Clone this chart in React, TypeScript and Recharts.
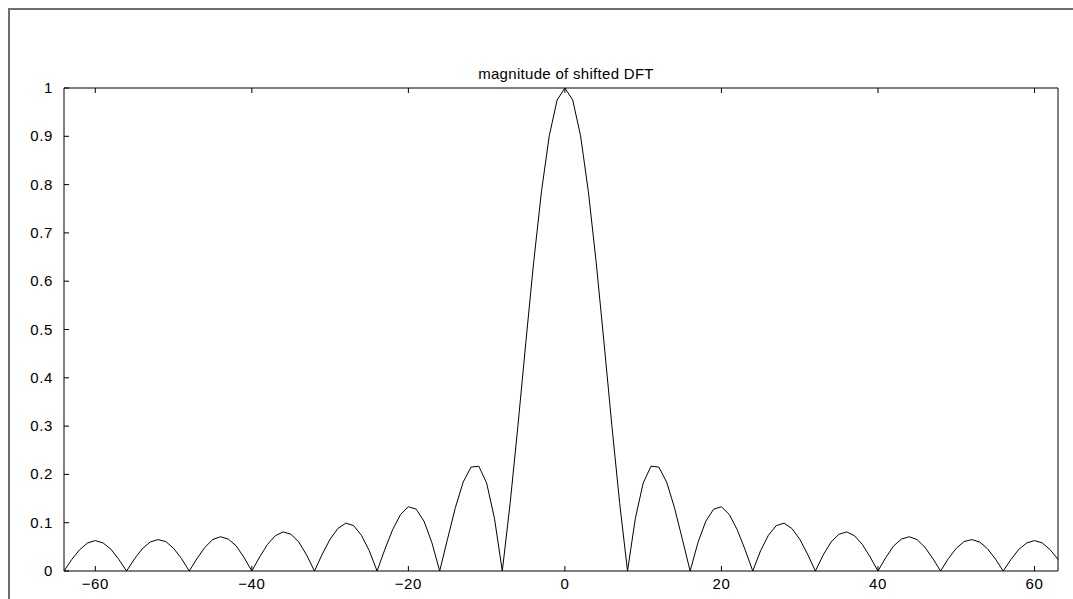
import { LineChart, Line, XAxis, YAxis } from "recharts";

// DFT bins shown on the x axis run from -64 to 63
const BIN_START = -64;

// |X[k]| for k = -64 .. -1
const magLeft = [
  0, 0.024, 0.044, 0.058, 0.063, 0.058, 0.045, 0.024,
  0, 0.025, 0.046, 0.06, 0.065, 0.061, 0.047, 0.026,
  0, 0.026, 0.049, 0.065, 0.071, 0.066, 0.052, 0.028,
  0, 0.029, 0.055, 0.073, 0.081, 0.076, 0.06, 0.033,
  0, 0.035, 0.066, 0.088, 0.099, 0.094, 0.074, 0.042,
  0, 0.045, 0.086, 0.117, 0.133, 0.128, 0.103, 0.059,
  0, 0.066, 0.131, 0.184, 0.215, 0.217, 0.182, 0.109,
  0, 0.14, 0.301, 0.472, 0.638, 0.785, 0.901, 0.975,
];

// |X[k]| for k = 0 .. 63
const magRight = [
  1, 0.975, 0.901, 0.785, 0.638, 0.472, 0.301, 0.14,
  0, 0.109, 0.182, 0.217, 0.215, 0.184, 0.131, 0.066,
  0, 0.059, 0.103, 0.128, 0.133, 0.117, 0.086, 0.045,
  0, 0.042, 0.074, 0.094, 0.099, 0.088, 0.066, 0.035,
  0, 0.033, 0.06, 0.076, 0.081, 0.073, 0.055, 0.029,
  0, 0.028, 0.052, 0.066, 0.071, 0.065, 0.049, 0.026,
  0, 0.026, 0.047, 0.061, 0.065, 0.06, 0.046, 0.025,
  0, 0.024, 0.045, 0.058, 0.063, 0.058, 0.044, 0.024,
];

const xTicks = [-60, -40, -20, 0, 20, 40, 60];
const yTicks = [0, 0.1, 0.2, 0.3, 0.4, 0.5, 0.6, 0.7, 0.8, 0.9, 1];

const TITLE = "magnitude of shifted DFT";

const FONT = '"Liberation Sans", Arial, Helvetica, sans-serif';
const FONT_SIZE = 15;
const TICK_LEN = 5;

const fmtX = (v: number) => (v < 0 ? "\u2212" + Math.abs(v) : String(v));

// MATLAB-style ticks: short marks pointing into the axes box
function BottomTick(props: any) {
  const { x, y, payload } = props;
  return (
    <g>
      <line x1={x} y1={y} x2={x} y2={y - TICK_LEN} stroke="#000" />
      <text x={x} y={y + 18} textAnchor="middle" fill="#000" fontSize={FONT_SIZE} fontFamily={FONT} letterSpacing={0.6}>
        {fmtX(payload.value)}
      </text>
    </g>
  );
}

function TopTick(props: any) {
  const { x, y } = props;
  return <line x1={x} y1={y} x2={x} y2={y + TICK_LEN} stroke="#000" />;
}

function LeftTick(props: any) {
  const { x, y, payload } = props;
  return (
    <g>
      <line x1={x} y1={y} x2={x + TICK_LEN} y2={y} stroke="#000" />
      <text x={x - 11} y={y + 5} textAnchor="end" fill="#000" fontSize={FONT_SIZE} fontFamily={FONT} letterSpacing={0.6}>
        {payload.value}
      </text>
    </g>
  );
}

function RightTick(props: any) {
  const { x, y } = props;
  return <line x1={x} y1={y} x2={x - TICK_LEN} y2={y} stroke="#000" />;
}

export default function App() {
  const data = [...magLeft, ...magRight].map((mag, i) => ({ k: BIN_START + i, mag }));

  return (
    <>
      {/* figure frame, running off the right and bottom of the page */}
      <div
        style={{
          position: "fixed",
          left: 8,
          top: 8,
          width: 3000,
          height: 3000,
          borderTop: "2px solid #6e6e6e",
          borderLeft: "2px solid #6e6e6e",
          background: "#fff",
        }}
      />
      <div style={{ position: "fixed", left: 8, top: 8, width: 1065, height: 591 }}>
        <div
          style={{
            position: "absolute",
            left: 558,
            top: 58,
            transform: "translateX(-50%)",
            whiteSpace: "nowrap",
            fontFamily: FONT,
            fontSize: FONT_SIZE,
            lineHeight: "15px",
            letterSpacing: 0.3,
            color: "#000",
          }}
        >
          {TITLE}
        </div>
        <div style={{ position: "absolute", left: 0, top: 0 }}>
          <LineChart width={1065} height={591} data={data} margin={{ top: 0, right: 0, bottom: 0, left: 0 }}>
            <XAxis
              xAxisId="bottom"
              dataKey="k"
              type="number"
              domain={[-64, 63]}
              ticks={xTicks}
              tickSize={0}
              tickMargin={0}
              height={28}
              tick={<BottomTick />}
              axisLine={{ stroke: "#000" }}
              tickLine={false}
            />
            <XAxis
              xAxisId="top"
              orientation="top"
              dataKey="k"
              type="number"
              domain={[-64, 63]}
              ticks={xTicks}
              tickSize={0}
              tickMargin={0}
              height={80}
              tick={<TopTick />}
              axisLine={{ stroke: "#000" }}
              tickLine={false}
            />
            <YAxis
              yAxisId="left"
              type="number"
              domain={[0, 1]}
              ticks={yTicks}
              tickSize={0}
              tickMargin={0}
              width={56}
              tick={<LeftTick />}
              axisLine={{ stroke: "#000" }}
              tickLine={false}
            />
            <YAxis
              yAxisId="right"
              orientation="right"
              type="number"
              domain={[0, 1]}
              ticks={yTicks}
              tickSize={0}
              tickMargin={0}
              width={15}
              tick={<RightTick />}
              axisLine={{ stroke: "#000" }}
              tickLine={false}
            />
            <Line
              xAxisId="bottom"
              yAxisId="left"
              dataKey="mag"
              type="linear"
              stroke="#000"
              strokeWidth={1}
              dot={false}
              isAnimationActive={false}
            />
          </LineChart>
        </div>
      </div>
    </>
  );
}
